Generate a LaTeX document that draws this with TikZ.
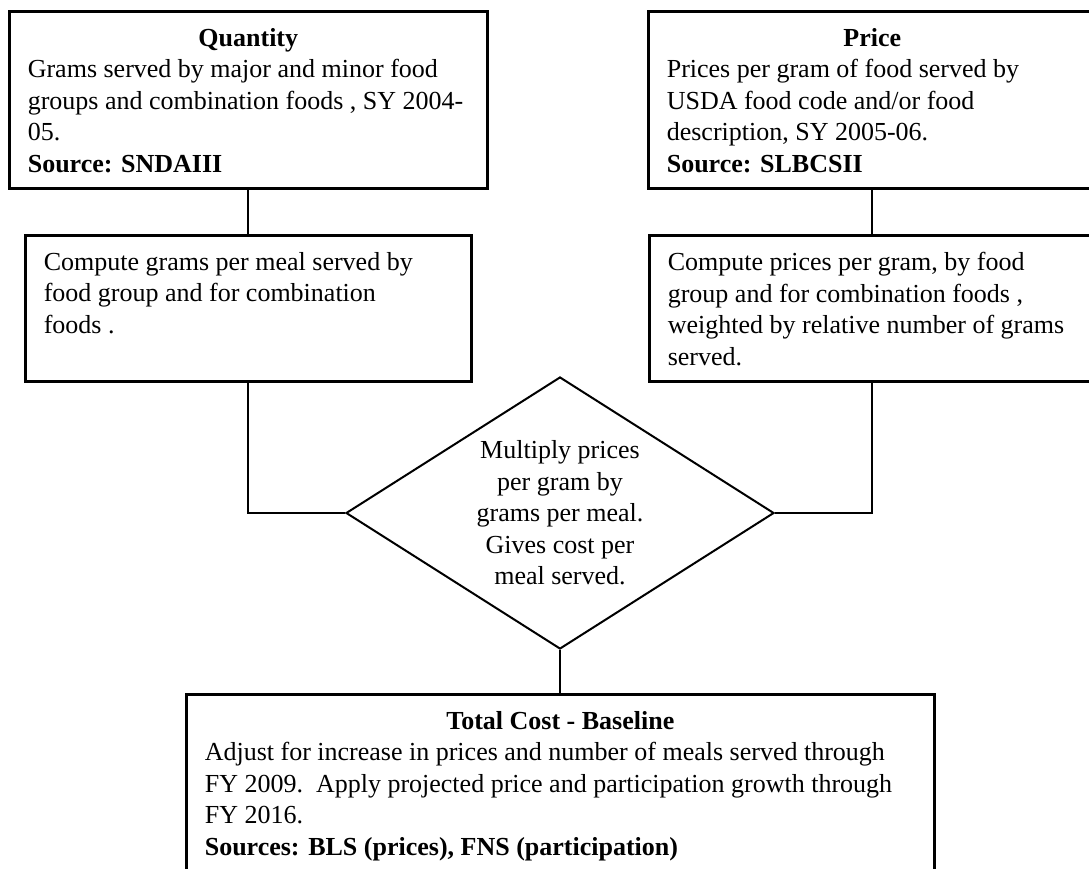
\documentclass[tikz,border=0pt]{standalone}
\usepackage{fontspec}
\setmainfont{Liberation Serif}
\usetikzlibrary{shapes.geometric}

\begin{document}
\begin{tikzpicture}[x=1pt, y=-1pt, font=\fontsize{26}{31.5}\selectfont]
  \tikzstyle{boite}=[draw, line width=2.6pt, rectangle, anchor=north west, inner xsep=18.5pt, inner ysep=17pt];
  \tikzstyle{losange}=[draw, line width=2pt, diamond, inner sep=0, minimum width=428pt, minimum height=272pt];
  \tikzstyle{lien}=[line width=2pt];

  \useasboundingbox (0,0) rectangle (1089,869);
  \clip (0,0) rectangle (1089,869);

  \node[boite] (qte) at (8,10) {\parbox[t][143pt][t]{441pt}{%
    {\centering\textbf{Quantity}\par}\raggedright
    Grams served by major and minor food\\
    groups and combination foods , SY 2004-\\
    05.\\
    \textbf{Source: SNDAIII}}};
  \node[boite] (prix) at (647,10) {\parbox[t][143pt][t]{411pt}{%
    {\centering\textbf{Price}\par}\raggedright
    Prices per gram of food served by\\
    USDA food code and/or food\\
    description, SY 2005-06.\\
    \textbf{Source: SLBCSII}}};
  \node[boite] (calcq) at (24,234) {\parbox[t][112pt][t]{409pt}{\raggedright
    Compute grams per meal served by\\
    food group and for combination\\
    foods .}};
  \node[boite] (calcp) at (648,234) {\parbox[t][112pt][t]{409pt}{\raggedright
    Compute prices per gram, by food\\
    group and for combination foods ,\\
    weighted by relative number of grams\\
    served.}};
  \node[losange, label={[align=center]center:Multiply prices\\per gram by\\grams per meal.\\Gives cost per\\meal served.}] (mult) at (560,513) {};
  \node[boite] (total) at (185,693) {\parbox[t][200pt][t]{711pt}{%
    {\centering\textbf{Total Cost - Baseline}\par}\raggedright
    Adjust for increase in prices and number of meals served through\\
    FY 2009.\ \ Apply projected price and participation growth through\\
    FY 2016.\\
    \textbf{Sources: BLS (prices), FNS (participation)}}};

  \draw[lien] (qte.south) -- (calcq.north);
  \draw[lien] (prix.south) -- (calcp.north);
  \draw[lien] (calcq.south) |- (mult.west);
  \draw[lien] (calcp.south) |- (mult.east);
  \draw[lien] (mult.south) -- (mult.south |- total.north);
\end{tikzpicture}
\end{document}
